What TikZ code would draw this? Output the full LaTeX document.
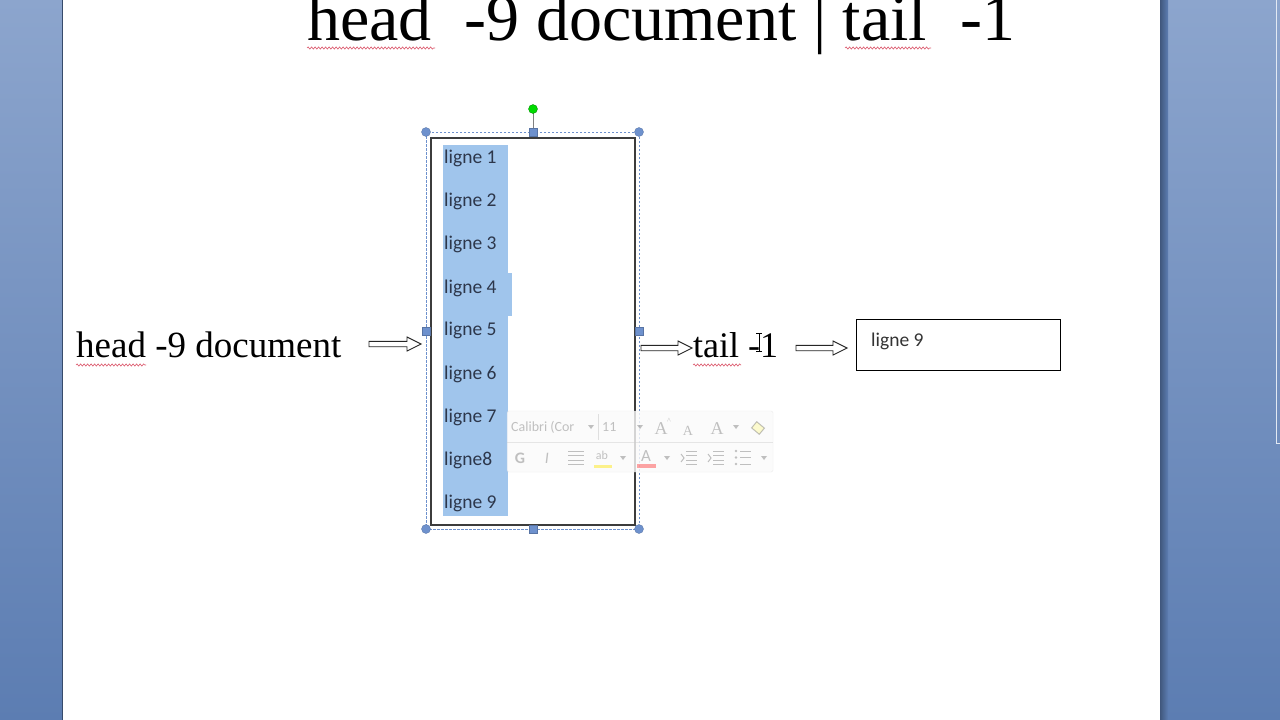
\documentclass[tikz,border=0pt]{standalone}
\usepackage{fontspec}
\setmainfont{Liberation Serif}
\newfontfamily\calibri{Carlito}
\usetikzlibrary{calc,decorations.pathmorphing}
\definecolor{sidetop}{RGB}{140,165,205}
\definecolor{sidebot}{RGB}{92,125,178}
\definecolor{hlblue}{RGB}{160,197,236}
\definecolor{lignetxt}{RGB}{45,55,75}
\definecolor{selblue}{RGB}{110,145,205}
\definecolor{wavyred}{RGB}{220,90,110}
\definecolor{boxgray}{RGB}{60,60,60}
\definecolor{tbgray}{RGB}{120,120,120}
\newcommand\hollowarrow[2]{%
  \draw[blockarr] ($(#1)+(0,-2.7)$) -- ($(#2)+(-14,-2.7)$) -- ($(#2)+(-14,-7)$) -- (#2)
   -- ($(#2)+(-14,7)$) -- ($(#2)+(-14,2.7)$) -- ($(#1)+(0,2.7)$) -- cycle;}
\begin{document}
\begin{tikzpicture}[x=1pt,y=-1pt,
  bigtitle/.style={inner sep=0pt,font=\fontsize{66}{70}\selectfont},
  midtext/.style={inner sep=0pt,font=\fontsize{37}{40}\selectfont},
  lignestyle/.style={inner sep=0pt,text=lignetxt,font=\calibri\fontsize{19.5}{22}\selectfont},
  restext/.style={inner sep=0pt,text=black!80,font=\calibri\fontsize{19.5}{22}\selectfont},
  wavy/.style={draw=wavyred,line width=0.6pt,decorate,decoration={snake,amplitude=1.1pt,segment length=3.5pt}},
  blockarr/.style={draw=black!85,line width=0.9pt,fill=white},
  seldash/.style={draw=selblue,line width=0.8pt,dash pattern=on 2.5pt off 1.5pt},
  cornerh/.style={circle,fill=selblue,draw=selblue!80!black,line width=0.3pt,minimum size=9pt,inner sep=0pt},
  edgeh/.style={rectangle,fill=selblue,draw=selblue!80!black,line width=0.3pt,minimum size=8pt,inner sep=0pt},
  tbtext/.style={inner sep=0pt,text=tbgray,font=\calibri\fontsize{14}{16}\selectfont},
  tbicon/.style={draw=tbgray,line width=1pt},
]
\useasboundingbox (0,0) rectangle (1280,720);
% window background
\shade[top color=sidetop,bottom color=sidebot] (0,0) rectangle (63,720);
\shade[top color=sidetop,bottom color=sidebot] (1160,0) rectangle (1280,720);
\shade[left color=sidebot!70!black,right color=sidebot] (1160,0) rectangle (1168,720);
\fill[white] (63,0) rectangle (1160,720);
\draw[sidebot!60!black,line width=1.2pt] (62.5,0) -- (62.5,720);
\draw[white!75!sidetop,line width=1pt] (1276.5,0) -- (1276.5,443) -- (1280,443);

% title
\node[bigtitle,anchor=base west] (title) at (307,40) {head\ \ -9 document | tail\ \ -1};
\draw[wavy] ($(title.base west)+(0,8)$) -- ++(128,0);
\draw[wavy] ($(title.base west)+(538,8)$) -- ++(86,0);

% left text
\node[midtext,anchor=base west] (headtxt) at (76,357) {head -9 document};
\draw[wavy] ($(headtxt.base west)+(0,8)$) -- ++(70,0);

% list box
\fill[hlblue] (443,145) rectangle (508,516);
\fill[hlblue] (508,273) rectangle (512,316);
\node[draw=boxgray,line width=1.5pt,minimum width=204pt,minimum height=387pt,anchor=north west,inner sep=0pt] (listbox) at (430,137) {};
\foreach \i/\yy in {1/163,2/206,3/249,4/293,5/335,6/379,7/422,9/508}
  \node[lignestyle,anchor=base west] (l\i) at (444,\yy) {ligne \i};
\node[lignestyle,anchor=base west] (l8) at (444,465) {ligne8};

% selection frame
\coordinate (selnw) at (426,132);
\coordinate (selse) at (639,529);
\draw[seldash] (selnw) rectangle (selse);
\coordinate (rot) at (533,109);
\draw[gray,line width=1pt] (rot) -- (533,132);
\node[circle,fill=green!80!black!70!green,draw=green!50!black,line width=0.3pt,minimum size=9pt,inner sep=0pt] (roth) at (rot) {};
\node[cornerh] (h1) at (426,132) {};
\node[cornerh] (h2) at (639,132) {};
\node[cornerh] (h3) at (426,529) {};
\node[cornerh] (h4) at (639,529) {};
\node[edgeh] (h5) at (533,132) {};
\node[edgeh] (h6) at (533,529) {};
\node[edgeh] (h7) at (426,331) {};
\node[edgeh] (h8) at (639,331) {};

% tail text
\node[midtext,font=\fontsize{36}{40}\selectfont,anchor=base west] (tailtxt) at (693,357) {tail -1};
\draw[wavy] ($(tailtxt.base west)+(0,8)$) -- ++(48,0);

% result box
\node[draw=black,line width=1pt,minimum width=204pt,minimum height=51pt,anchor=north west,inner sep=0pt] (res) at (856,319) {};
\node[restext,anchor=base west] (restxt) at (871,346) {ligne 9};

% arrows
\coordinate (a1s) at (369,344); \coordinate (a1e) at (421,344);
\coordinate (a2s) at (641,348); \coordinate (a2e) at (692,348);
\coordinate (a3s) at (796,348); \coordinate (a3e) at (847,348);
\hollowarrow{a1s}{a1e}
\hollowarrow{a2s}{a2e}
\hollowarrow{a3s}{a3e}

% mouse I-beam
\draw[black,line width=1pt] (759,333) -- (759,351) (756,333) -- (762,333) (756,351) -- (762,351);

% faded mini toolbar
\begin{scope}[opacity=0.45]
\fill[white!96!gray,fill opacity=0.8,rounded corners=2pt] (507,411) rectangle (773,472);
\draw[gray!30,rounded corners=2pt] (507,411) rectangle (773,472);
\draw[gray!40] (507,442) -- (773,442);
\node[tbtext,anchor=west] (tbfont) at (511,427) {Calibri (Cor};
\fill[tbgray] (588,425) -- (594,425) -- (591,429) -- cycle;
\draw[gray!50] (598,414) -- (598,440);
\node[tbtext,anchor=west] (tbsize) at (602,427) {11};
\fill[tbgray] (637,425) -- (643,425) -- (640,429) -- cycle;
\node[tbtext,font=\fontsize{18}{20}\selectfont,anchor=center] (tbgrow) at (661,429) {A};
\node[tbtext,font=\fontsize{8}{9}\selectfont] at (669,421) {\textasciicircum};
\node[tbtext,font=\fontsize{14}{16}\selectfont,anchor=center] (tbshrink) at (688,431) {A};
\node[tbtext,font=\fontsize{18}{20}\selectfont,anchor=center] (tbclear) at (717,429) {A};
\fill[tbgray] (733,425) -- (739,425) -- (736,429) -- cycle;
\draw[tbicon,fill=yellow!40,rotate around={-40:(758,428)}] (753,424) rectangle (763,432);
\node[tbtext,font=\calibri\bfseries\fontsize{16}{18}\selectfont] (tbg) at (520,458) {G};
\node[tbtext,font=\calibri\itshape\fontsize{16}{18}\selectfont] (tbi) at (547,458) {I};
\foreach \yy in {451,455.5,460,464.5} \draw[tbicon] (568,\yy) -- (584,\yy);
\node[tbtext,font=\calibri\fontsize{12}{14}\selectfont] (tbab) at (602,455) {ab};
\fill[yellow!90!orange] (594,465) rectangle (612,468);
\fill[tbgray] (620,456) -- (626,456) -- (623,460) -- cycle;
\node[tbtext,font=\calibri\fontsize{17}{18}\selectfont] (tbA) at (646,456) {A};
\fill[red!70!pink] (637,464) rectangle (656,468);
\fill[tbgray] (664,456) -- (670,456) -- (667,460) -- cycle;
\foreach \xx in {681,708} {
  \foreach \yy in {451,455.5,460,464.5} \draw[tbicon] (\xx+5,\yy) -- (\xx+16,\yy);
  \draw[tbicon] (\xx,454) -- (\xx+3,458) -- (\xx,462);
}
\foreach \yy in {451,457.5,464} {\fill[tbgray] (736,\yy) circle (1.3); \draw[tbicon] (740,\yy) -- (751,\yy);}
\fill[tbgray] (761,456) -- (767,456) -- (764,460) -- cycle;
\end{scope}
\end{tikzpicture}
\end{document}
